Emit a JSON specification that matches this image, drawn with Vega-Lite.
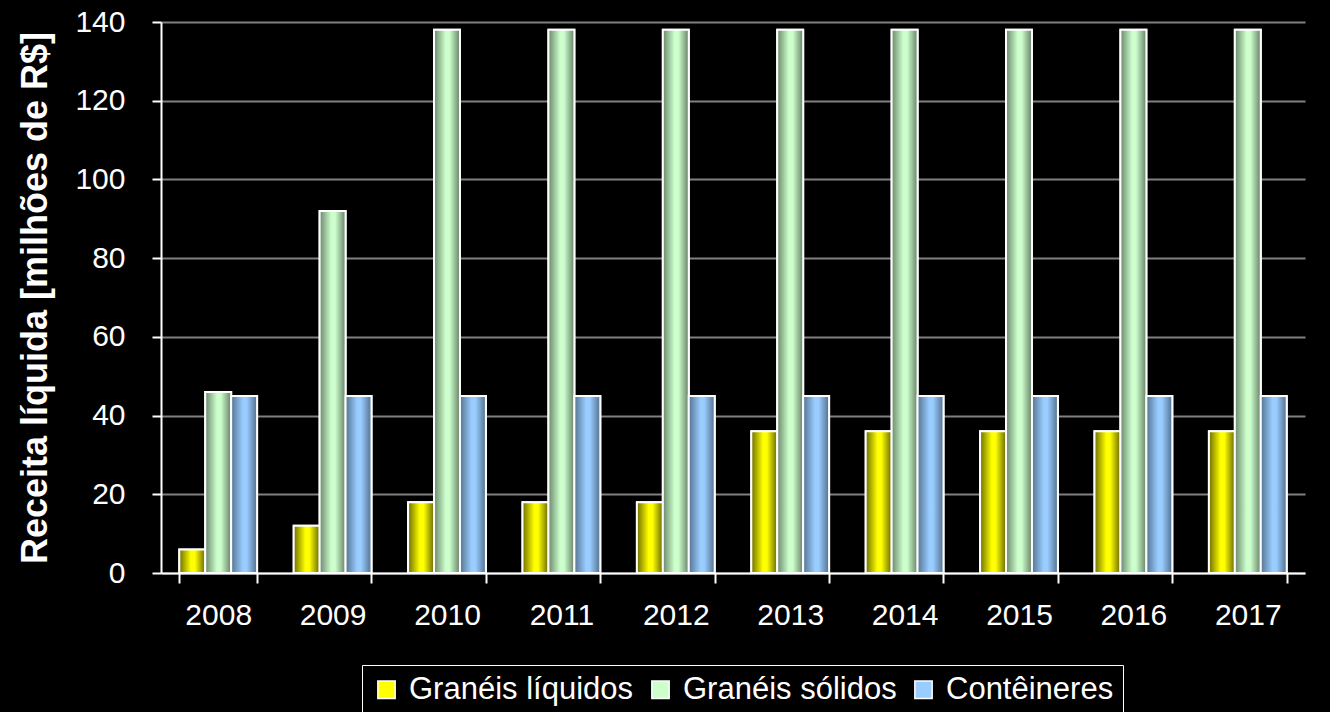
{
  "$schema": "https://vega.github.io/schema/vega-lite/v6.json",
  "width": 1144,
  "height": 551,
  "autosize": {"type": "none"},
  "padding": {"left": 161, "top": 22, "right": 25, "bottom": 139},
  "background": "#000000",
  "config": {
    "view": {"stroke": null},
    "font": "Liberation Sans"
  },
  "data": {
    "values": [
      {"ano": "2008", "tipo": "Granéis líquidos", "valor": 6},
      {"ano": "2008", "tipo": "Granéis sólidos", "valor": 46},
      {"ano": "2008", "tipo": "Contêineres", "valor": 45},
      {"ano": "2009", "tipo": "Granéis líquidos", "valor": 12},
      {"ano": "2009", "tipo": "Granéis sólidos", "valor": 92},
      {"ano": "2009", "tipo": "Contêineres", "valor": 45},
      {"ano": "2010", "tipo": "Granéis líquidos", "valor": 18},
      {"ano": "2010", "tipo": "Granéis sólidos", "valor": 138},
      {"ano": "2010", "tipo": "Contêineres", "valor": 45},
      {"ano": "2011", "tipo": "Granéis líquidos", "valor": 18},
      {"ano": "2011", "tipo": "Granéis sólidos", "valor": 138},
      {"ano": "2011", "tipo": "Contêineres", "valor": 45},
      {"ano": "2012", "tipo": "Granéis líquidos", "valor": 18},
      {"ano": "2012", "tipo": "Granéis sólidos", "valor": 138},
      {"ano": "2012", "tipo": "Contêineres", "valor": 45},
      {"ano": "2013", "tipo": "Granéis líquidos", "valor": 36},
      {"ano": "2013", "tipo": "Granéis sólidos", "valor": 138},
      {"ano": "2013", "tipo": "Contêineres", "valor": 45},
      {"ano": "2014", "tipo": "Granéis líquidos", "valor": 36},
      {"ano": "2014", "tipo": "Granéis sólidos", "valor": 138},
      {"ano": "2014", "tipo": "Contêineres", "valor": 45},
      {"ano": "2015", "tipo": "Granéis líquidos", "valor": 36},
      {"ano": "2015", "tipo": "Granéis sólidos", "valor": 138},
      {"ano": "2015", "tipo": "Contêineres", "valor": 45},
      {"ano": "2016", "tipo": "Granéis líquidos", "valor": 36},
      {"ano": "2016", "tipo": "Granéis sólidos", "valor": 138},
      {"ano": "2016", "tipo": "Contêineres", "valor": 45},
      {"ano": "2017", "tipo": "Granéis líquidos", "valor": 36},
      {"ano": "2017", "tipo": "Granéis sólidos", "valor": 138},
      {"ano": "2017", "tipo": "Contêineres", "valor": 45}
    ]
  },
  "encoding": {
    "x": {
      "field": "ano",
      "type": "nominal",
      "scale": {"paddingInner": 0.32, "paddingOuter": 0.16},
      "axis": {
        "title": null,
        "labelAngle": 0,
        "labelColor": "#ffffff",
        "labelFontSize": 30,
        "labelPadding": 17,
        "tickBand": "extent",
        "tickColor": "#ffffff",
        "tickSize": 10,
        "tickWidth": 2,
        "domainColor": "#ffffff",
        "domainWidth": 2,
        "grid": false
      }
    },
    "xOffset": {
      "field": "tipo",
      "type": "nominal",
      "scale": {"domain": ["Granéis líquidos", "Granéis sólidos", "Contêineres"], "paddingInner": 0, "paddingOuter": 0}
    },
    "y": {
      "field": "valor",
      "type": "quantitative",
      "scale": {"domain": [0, 140], "nice": false},
      "axis": {
        "title": "Receita líquida [milhões de R$]",
        "titleColor": "#ffffff",
        "titleFontSize": 36,
        "titleFontWeight": "bold",
        "titlePadding": 20,
        "values": [0, 20, 40, 60, 80, 100, 120, 140],
        "labelColor": "#ffffff",
        "labelFontSize": 30,
        "labelPadding": 27,
        "tickColor": "#ffffff",
        "tickSize": 9,
        "tickWidth": 2,
        "domainColor": "#ffffff",
        "domainWidth": 2,
        "gridColor": "#808080",
        "gridWidth": 2
      }
    }
  },
  "layer": [
    {
      "mark": {"type": "bar", "stroke": "#ffffff", "strokeWidth": 2},
      "encoding": {
        "color": {
          "field": "tipo",
          "type": "nominal",
          "scale": {
            "domain": ["Granéis líquidos", "Granéis sólidos", "Contêineres"],
            "range": ["#ffff00", "#ccffcc", "#99ccff"]
          },
          "legend": {
            "title": null,
            "orient": "none",
            "direction": "horizontal",
            "legendX": 201,
            "legendY": 643,
            "padding": 9,
            "strokeColor": "#ffffff",
            "fillColor": "#000000",
            "labelColor": "#ffffff",
            "labelFontSize": 31,
            "labelLimit": 400,
            "symbolType": "square",
            "symbolSize": 300,
            "symbolStrokeColor": "#ffffff",
            "symbolStrokeWidth": 1.5,
            "columnPadding": 11,
            "labelOffset": 7
          }
        }
      }
    },
    {
      "transform": [{"filter": "datum.tipo === 'Granéis líquidos'"}],
      "mark": {
        "type": "bar",
        "stroke": "#ffffff",
        "strokeWidth": 2,
        "fill": {
          "gradient": "linear", "x1": 0, "y1": 0, "x2": 1, "y2": 0,
          "stops": [
            {"offset": 0, "color": "#6e6e00"},
            {"offset": 0.45, "color": "#ffff00"},
            {"offset": 0.6, "color": "#ffff00"},
            {"offset": 1, "color": "#6a6a00"}
          ]
        }
      }
    },
    {
      "transform": [{"filter": "datum.tipo === 'Granéis sólidos'"}],
      "mark": {
        "type": "bar",
        "stroke": "#ffffff",
        "strokeWidth": 2,
        "fill": {
          "gradient": "linear", "x1": 0, "y1": 0, "x2": 1, "y2": 0,
          "stops": [
            {"offset": 0, "color": "#6a876a"},
            {"offset": 0.45, "color": "#ccffcc"},
            {"offset": 0.6, "color": "#ccffcc"},
            {"offset": 1, "color": "#668066"}
          ]
        }
      }
    },
    {
      "transform": [{"filter": "datum.tipo === 'Contêineres'"}],
      "mark": {
        "type": "bar",
        "stroke": "#ffffff",
        "strokeWidth": 2,
        "fill": {
          "gradient": "linear", "x1": 0, "y1": 0, "x2": 1, "y2": 0,
          "stops": [
            {"offset": 0, "color": "#557391"},
            {"offset": 0.45, "color": "#99ccff"},
            {"offset": 0.6, "color": "#99ccff"},
            {"offset": 1, "color": "#526f8c"}
          ]
        }
      }
    }
  ]
}
